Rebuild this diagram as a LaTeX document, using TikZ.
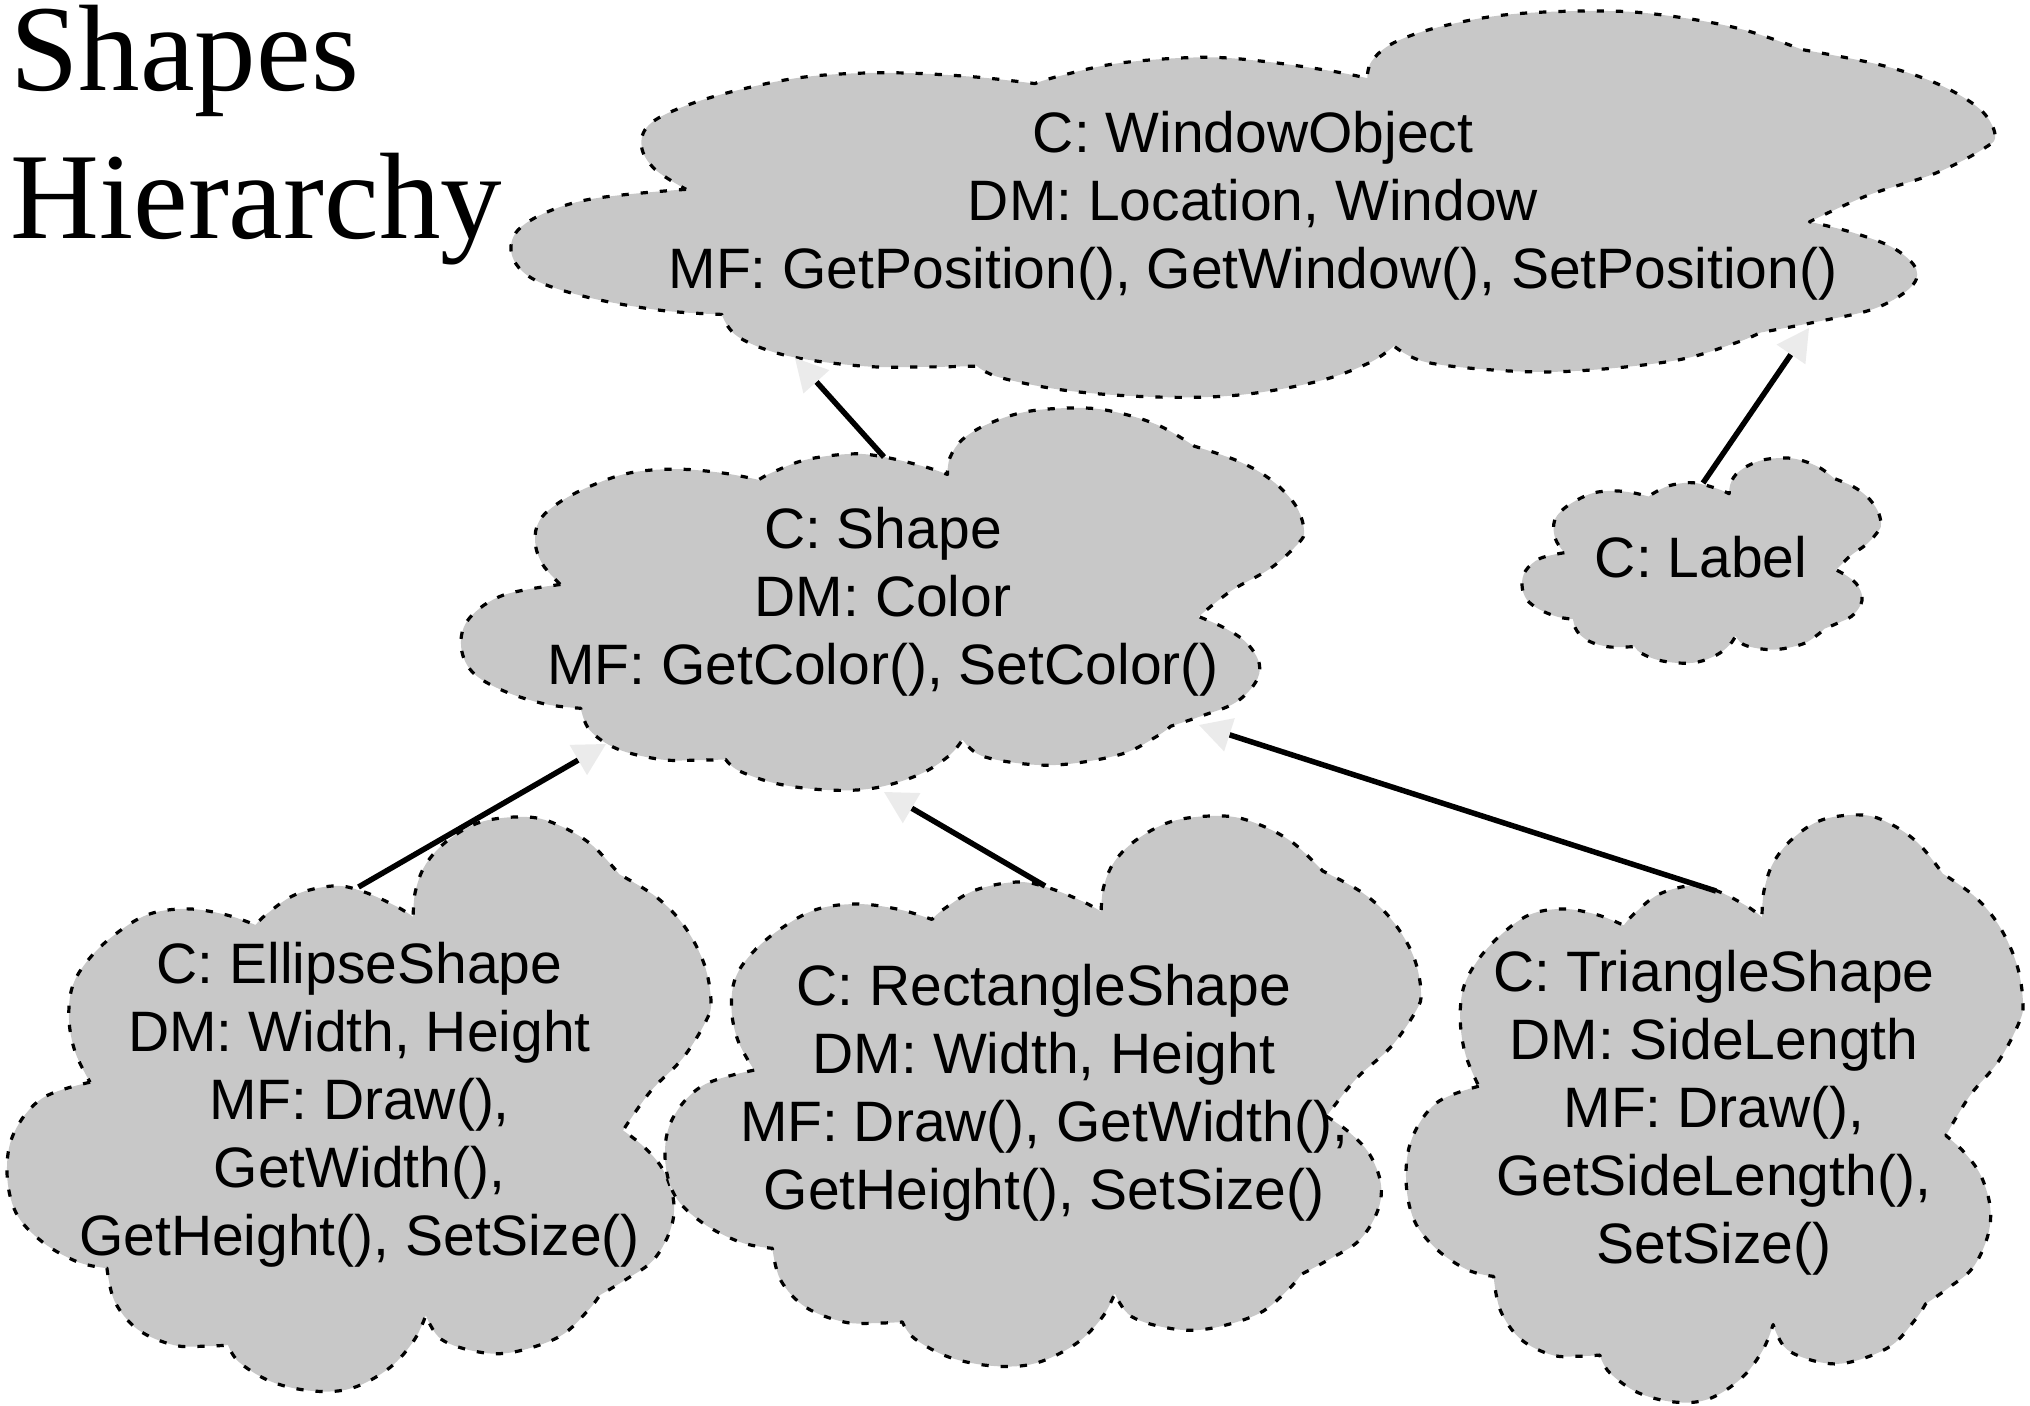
\documentclass[tikz,border=0pt]{standalone}
\usepackage{fontspec}
\newfontfamily\cloudfont{Liberation Sans}
\newfontfamily\titlefont{Liberation Serif}
\usetikzlibrary{arrows.meta}
\definecolor{cloudgray}{RGB}{200,200,200}
\definecolor{arrowgray}{RGB}{235,235,235}
\tikzset{
  cloudpath/.style={insert path={
    plot[smooth,tension=0.6] coordinates {(0.118,0.462) (0.05,0.49) (0.01,0.55) (0,0.62) (0.013,0.69) (0.05,0.74) (0.1,0.775) (0.142,0.786)}
    -- plot[smooth,tension=0.6] coordinates {(0.142,0.786) (0.153,0.844) (0.186,0.893) (0.237,0.92) (0.28,0.922) (0.314,0.92)}
    -- plot[smooth,tension=0.6] coordinates {(0.314,0.92) (0.33,0.95) (0.376,0.984) (0.435,1.0) (0.49,0.995) (0.543,0.96) (0.578,0.912) (0.595,0.868)}
    -- plot[smooth,tension=0.6] coordinates {(0.595,0.868) (0.617,0.91) (0.67,0.932) (0.72,0.932) (0.785,0.905) (0.825,0.86) (0.842,0.833)}
    -- plot[smooth,tension=0.6] coordinates {(0.842,0.833) (0.88,0.805) (0.918,0.772) (0.942,0.72) (0.947,0.67) (0.932,0.615) (0.905,0.575) (0.875,0.546)}
    -- plot[smooth,tension=0.6] coordinates {(0.875,0.546) (0.914,0.478) (0.96,0.42) (0.993,0.355) (1.0,0.32) (0.99,0.255) (0.962,0.19) (0.923,0.14) (0.87,0.1)}
    -- plot[smooth,tension=0.6] coordinates {(0.87,0.1) (0.83,0.048) (0.785,0.015) (0.74,0.0) (0.675,0.008) (0.627,0.04) (0.595,0.082) (0.58,0.13) (0.577,0.174)}
    -- plot[smooth,tension=0.6] coordinates {(0.577,0.174) (0.552,0.155) (0.506,0.13) (0.465,0.12) (0.41,0.135) (0.37,0.168) (0.353,0.188)}
    -- plot[smooth,tension=0.6] coordinates {(0.353,0.188) (0.31,0.17) (0.255,0.16) (0.2,0.17) (0.153,0.205) (0.116,0.248) (0.093,0.295) (0.088,0.352) (0.097,0.41) (0.118,0.462)}
    -- cycle}},
  cloudline/.style={fill=cloudgray, draw=black, line width=1.6pt, dash pattern=on 3.6pt off 6pt, line join=round},
  cloudtext/.style={font=\cloudfont\fontsize{28.5}{34}\selectfont, align=center, inner sep=0pt, anchor=north},
  titletext/.style={font=\titlefont\fontsize{61.5}{74}\selectfont, inner sep=0pt, anchor=base west},
  conn/.style={line width=2.75pt, -{Triangle[length=16pt, width=17.5pt, line width=0pt, color=arrowgray]}},
}
% #1 X0, #2 Y0 (px), #3 x unit, #4 y unit
\newcommand\cloudat[4]{%
  \begin{scope}[shift={(#1,#2)}, x=#3, y=-#4]
    \path[cloudline, cloudpath];
  \end{scope}}
\begin{document}
\begin{tikzpicture}[x=0.5pt, y=-0.5pt]
\useasboundingbox (0,0) rectangle (2030,1405);
% clouds
\cloudat{511}{11}{742pt}{193pt}
\cloudat{461}{408}{421.5pt}{191pt}
\cloudat{1522}{458}{179.5pt}{102.5pt}
\cloudat{7}{817}{352pt}{287pt}
\cloudat{665}{816}{378pt}{275pt}
\cloudat{1406}{815}{308.5pt}{293.5pt}
% title
\node[titletext] (title1) at (10,90) {Shapes};
\node[titletext] (title2) at (10,238) {Hierarchy};
% texts
\node[cloudtext] (wo) at (1253,104.4) {\strut C: WindowObject\\DM: Location, Window\\MF: GetPosition(), GetWindow(), SetPosition()};
\node[cloudtext] (shape) at (883,500.4) {\strut C: Shape\\DM: Color\\MF: GetColor(), SetColor()};
\node[cloudtext] (label) at (1701,529.4) {\strut C: Label};
\node[cloudtext] (ellipse) at (359.5,935.4) {\strut C: EllipseShape\\DM: Width, Height\\MF: Draw(),\\GetWidth(),\\GetHeight(), SetSize()};
\node[cloudtext] (rect) at (1044,957.4) {\strut C: RectangleShape\\DM: Width, Height\\MF: Draw(), GetWidth(),\\GetHeight(), SetSize()};
\node[cloudtext] (tri) at (1714,943.4) {\strut C: TriangleShape\\DM: SideLength\\MF: Draw(),\\GetSideLength(),\\SetSize()};
% connection points
\coordinate (shapeTop) at (884,457);
\coordinate (labelTop) at (1703,483);
\coordinate (ellipseTop) at (358.5,887);
\coordinate (rectTop) at (1045,886);
\coordinate (triTop) at (1716,891);
\coordinate (woInA) at (795,358);
\coordinate (woInB) at (1809,328);
\coordinate (shapeInA) at (606,744);
\coordinate (shapeInB) at (884,792);
\coordinate (shapeInC) at (1199,725);
% connectors
\draw[conn] (shapeTop) -- (woInA);
\draw[conn] (labelTop) -- (woInB);
\draw[conn] (ellipseTop) -- (shapeInA);
\draw[conn] (rectTop) -- (shapeInB);
\draw[conn] (triTop) -- (shapeInC);
\end{tikzpicture}
\end{document}
